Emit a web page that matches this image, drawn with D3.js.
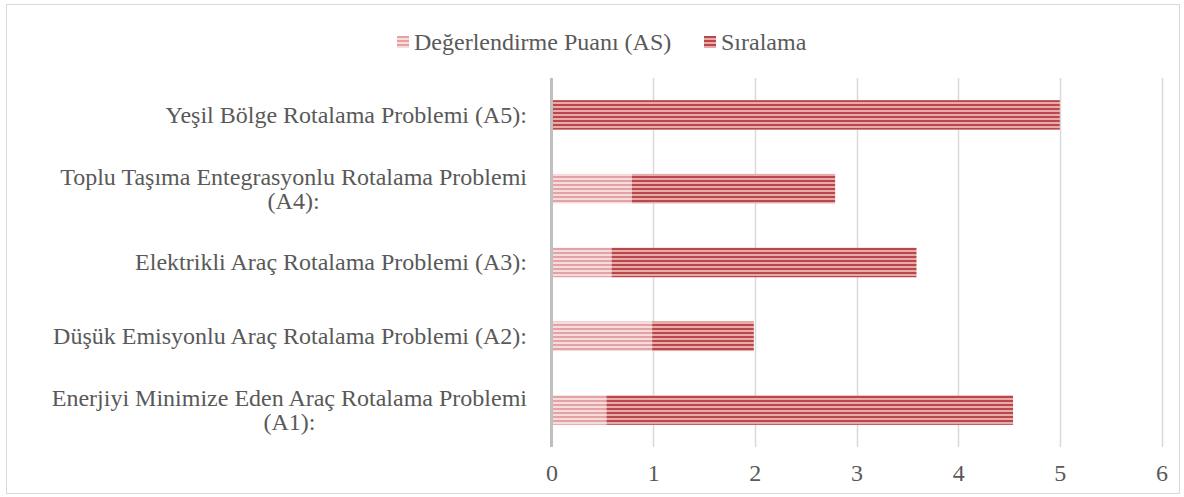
<!DOCTYPE html>
<html><head><meta charset="utf-8">
<script src="https://cdn.jsdelivr.net/npm/d3@7"></script>
<style>body{margin:0;background:#fff}svg{display:block}text{font-family:"Liberation Serif","Times New Roman",serif;fill:#595959}</style>
</head><body><svg id="c" width="1184" height="497"></svg>
<script>
const categories = [
  "Enerjiyi Minimize Eden Araç Rotalama Problemi (A1):",
  "Düşük Emisyonlu Araç Rotalama Problemi (A2):",
  "Elektrikli Araç Rotalama Problemi (A3):",
  "Toplu Taşıma Entegrasyonlu Rotalama Problemi (A4):",
  "Yeşil Bölge Rotalama Problemi (A5):"
];
const asValues = [0.54, 0.99, 0.59, 0.79, 0];
const rankValues = [4, 1, 3, 2, 5];
const seriesNames = ["Değerlendirme Puanı (AS)", "Sıralama"];
const xTicks = [0, 1, 2, 3, 4, 5, 6];

const svg = d3.select("#c");
const W = 1184, H = 497;
const fs = 24;
svg.append("rect").attr("x", 6.5).attr("y", 4.5).attr("width", 1173).attr("height", 489)
  .attr("fill", "#fff").attr("stroke", "#d9d9d9").attr("stroke-width", 1);

const defs = svg.append("defs");
function stripe(id, dark, light) {
  const p = defs.append("pattern").attr("id", id).attr("patternUnits", "userSpaceOnUse")
    .attr("width", 8).attr("height", 4);
  p.append("rect").attr("width", 8).attr("height", 4).attr("fill", light);
  p.append("rect").attr("y", 0).attr("width", 8).attr("height", 2).attr("fill", dark);
}
stripe("pAS", "#e3a3a4", "#f6dcdc");
stripe("pRank", "#b9484c", "#e9aaaa");
const fills = ["url(#pAS)", "url(#pRank)"];

const m = {left: 551.5, right: 1161.5, top: 78, bottom: 447};
const x = d3.scaleLinear().domain([0, 6]).range([m.left, m.right]);
const order = categories.map((d, i) => i).reverse(); // A5 at top
const y = d3.scaleBand().domain(order).range([m.top, m.bottom]).paddingInner(0.6).paddingOuter(0.3);

// gridlines
svg.append("g").selectAll("line").data(xTicks.slice(1)).join("line")
  .attr("x1", d => Math.round(x(d)) + 0.5).attr("x2", d => Math.round(x(d)) + 0.5)
  .attr("y1", m.top).attr("y2", m.bottom).attr("stroke", "#d9d9d9").attr("stroke-width", 1.5);

// bars
const stackData = categories.map((c, i) => ({i, as: asValues[i], rank: rankValues[i]}));
const stack = d3.stack().keys(["as", "rank"])(stackData);
stack.forEach((layer, k) => {
  svg.append("g").selectAll("rect").data(layer).join("rect")
    .attr("x", d => x(d[0])).attr("width", d => Math.max(0, x(d[1]) - x(d[0])))
    .attr("y", d => y(d.data.i)).attr("height", y.bandwidth())
    .attr("fill", fills[k]);
});

// zero axis line
svg.append("line").attr("x1", x(0)).attr("x2", x(0)).attr("y1", m.top).attr("y2", m.bottom)
  .attr("stroke", "#bfbfbf").attr("stroke-width", 3);

// x tick labels
const xAxis = d3.axisBottom(x).tickValues(xTicks).tickSize(0).tickPadding(0).tickFormat(d3.format("d"));
const gx = svg.append("g").attr("transform", `translate(0,${m.bottom})`).call(xAxis);
gx.select(".domain").remove();
gx.selectAll("text").attr("dy", null).attr("y", 34).attr("font-size", fs).style("fill", "#595959")
  .attr("font-family", "Liberation Serif");

// category labels
const labelRight = 527, maxW = 495;
const gl = svg.append("g");
categories.forEach((c, i) => {
  const cy = y(i) + y.bandwidth() / 2;
  const words = c.split(" ");
  const t = gl.append("text").attr("font-size", fs).attr("text-anchor", "end");
  let lines = [], cur = [];
  words.forEach(w => {
    t.text(cur.concat([w]).join(" "));
    if (cur.length && t.node().getComputedTextLength() > maxW) { lines.push(cur.join(" ")); cur = [w]; }
    else cur.push(w);
  });
  lines.push(cur.join(" "));
  t.remove();
  const lh = 24, base = cy + 0.33 * fs - (lines.length - 1) * lh / 2;
  let w0 = 0;
  lines.forEach((ln, j) => {
    const tt = gl.append("text").attr("font-size", fs).attr("y", base + j * lh).text(ln);
    if (j === 0) { tt.attr("text-anchor", "end").attr("x", labelRight); w0 = tt.node().getComputedTextLength(); }
    else tt.attr("text-anchor", "middle").attr("x", labelRight - w0 / 2);
  });
});

// legend
const lg = svg.append("g");
const legX = [397, 704];
seriesNames.forEach((s, k) => {
  lg.append("rect").attr("x", legX[k]).attr("y", 36).attr("width", 12).attr("height", 12).attr("fill", fills[k]);
  lg.append("text").attr("x", legX[k] + 17).attr("y", 49.5).attr("font-size", fs).text(s);
});
</script></body></html>
